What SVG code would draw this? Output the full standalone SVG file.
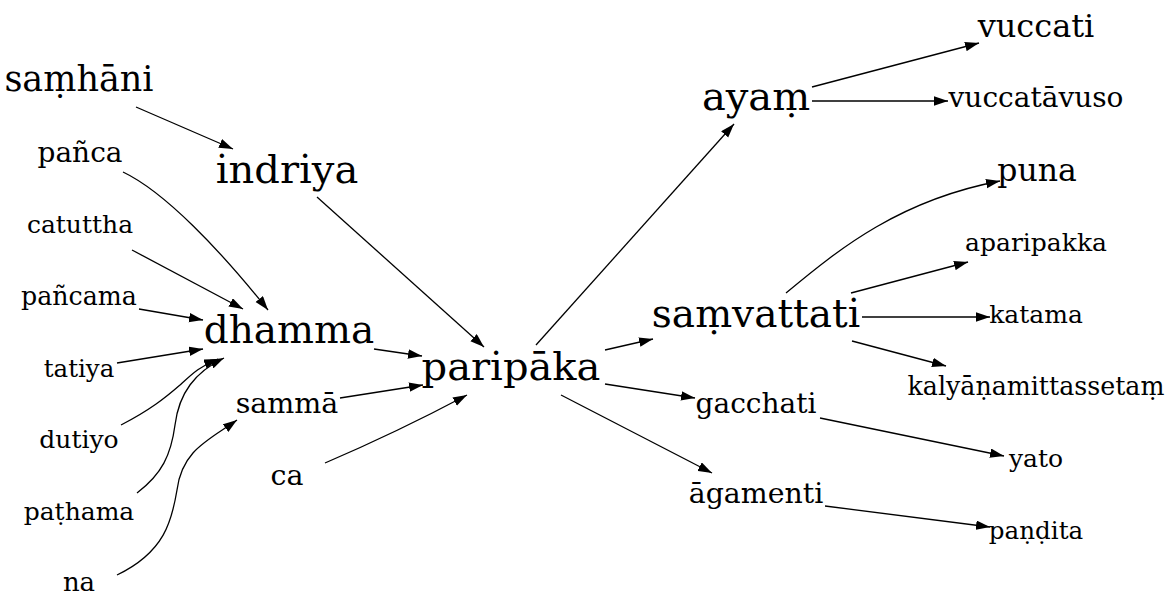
<svg xmlns="http://www.w3.org/2000/svg" width="1169" height="616" viewBox="0 0 1169 616">
<defs>
<style>
text{font-family:"DejaVu Serif","Liberation Serif",serif;fill:#000;text-anchor:middle}
.e{fill:none;stroke:#000;stroke-width:1.3}
</style>
<marker id="ah" markerUnits="userSpaceOnUse" markerWidth="15" markerHeight="10" refX="14" refY="4.75" orient="auto"><path d="M0,0 L14,4.75 L0,9.5 z" fill="#000"/></marker>
</defs>
<rect width="1169" height="616" fill="#fff"/>
<g id="edges">
<path class="e" marker-end="url(#ah)" d="M136,107 L233,149"/>
<path class="e" marker-end="url(#ah)" d="M123,172 C165,192 220,250 268,310"/>
<path class="e" marker-end="url(#ah)" d="M132,250 L243,309"/>
<path class="e" marker-end="url(#ah)" d="M139,309 L203,320"/>
<path class="e" marker-end="url(#ah)" d="M117,363 L203,349"/>
<path class="e" marker-end="url(#ah)" d="M121,425 C150,410 165,398 180,385 C192,374 200,366 218,359"/>
<path class="e" marker-end="url(#ah)" d="M137,493 C162,474 171,455 175,425 C179,393 195,372 224,358"/>
<path class="e" marker-end="url(#ah)" d="M117,575 C165,552 172,520 177,490 C182,450 209,440 237,420"/>
<path class="e" marker-end="url(#ah)" d="M317,197 L484,347"/>
<path class="e" marker-end="url(#ah)" d="M374,349 L422,356"/>
<path class="e" marker-end="url(#ah)" d="M340,398 L423,385"/>
<path class="e" marker-end="url(#ah)" d="M325,463 C360,448 420,420 467,395"/>
<path class="e" marker-end="url(#ah)" d="M536,345 L734,124"/>
<path class="e" marker-end="url(#ah)" d="M605,350 L653,339"/>
<path class="e" marker-end="url(#ah)" d="M605,384 L695,398"/>
<path class="e" marker-end="url(#ah)" d="M561,395 L712,473"/>
<path class="e" marker-end="url(#ah)" d="M812,87 L979,43"/>
<path class="e" marker-end="url(#ah)" d="M812,101 L948,101"/>
<path class="e" marker-end="url(#ah)" d="M786,293 C840,248 900,200 1000,181"/>
<path class="e" marker-end="url(#ah)" d="M851,293 L968,262"/>
<path class="e" marker-end="url(#ah)" d="M862,317 L990,317"/>
<path class="e" marker-end="url(#ah)" d="M852,341 L946,366"/>
<path class="e" marker-end="url(#ah)" d="M820,418 L1004,456"/>
<path class="e" marker-end="url(#ah)" d="M825,506 L990,527"/>
</g>
<g id="n-samhani"><text x="79" y="91" font-size="35">saṃhāni</text></g>
<g id="n-panca"><text x="80" y="162" font-size="28">pañca</text></g>
<g id="n-catuttha"><text x="80" y="233" font-size="25">catuttha</text></g>
<g id="n-pancama"><text x="79" y="305" font-size="25.3">pañcama</text></g>
<g id="n-tatiya"><text x="79" y="377" font-size="24.5">tatiya</text></g>
<g id="n-dutiyo"><text x="79" y="448" font-size="25">dutiyo</text></g>
<g id="n-pathama"><text x="79" y="520" font-size="25">paṭhama</text></g>
<g id="n-na"><text x="79" y="591" font-size="26">na</text></g>
<g id="n-indriya"><text x="287" y="183" font-size="40">indriya</text></g>
<g id="n-dhamma"><text x="289" y="343" font-size="39">dhamma</text></g>
<g id="n-samma"><text x="287" y="413" font-size="28.5">sammā</text></g>
<g id="n-ca"><text x="287" y="485" font-size="28.5">ca</text></g>
<g id="n-paripaka"><text x="511" y="380" font-size="40">paripāka</text></g>
<g id="n-ayam"><text x="756" y="110" font-size="40">ayaṃ</text></g>
<g id="n-samvattati"><text x="756" y="327" font-size="39">saṃvattati</text></g>
<g id="n-gacchati"><text x="756" y="413" font-size="28">gacchati</text></g>
<g id="n-agamenti"><text x="756" y="503" font-size="28.4">āgamenti</text></g>
<g id="n-vuccati"><text x="1036" y="37" font-size="32">vuccati</text></g>
<g id="n-vuccatavuso"><text x="1036" y="107" font-size="28">vuccatāvuso</text></g>
<g id="n-puna"><text x="1037" y="181" font-size="31.5">puna</text></g>
<g id="n-aparipakka"><text x="1036" y="251" font-size="25">aparipakka</text></g>
<g id="n-katama"><text x="1036" y="323" font-size="25">katama</text></g>
<g id="n-kalyana"><text x="1036" y="395" font-size="25.3">kalyāṇamittassetaṃ</text></g>
<g id="n-yato"><text x="1036" y="467" font-size="25">yato</text></g>
<g id="n-pandita"><text x="1036" y="539" font-size="24.6">paṇḍita</text></g>
</svg>
